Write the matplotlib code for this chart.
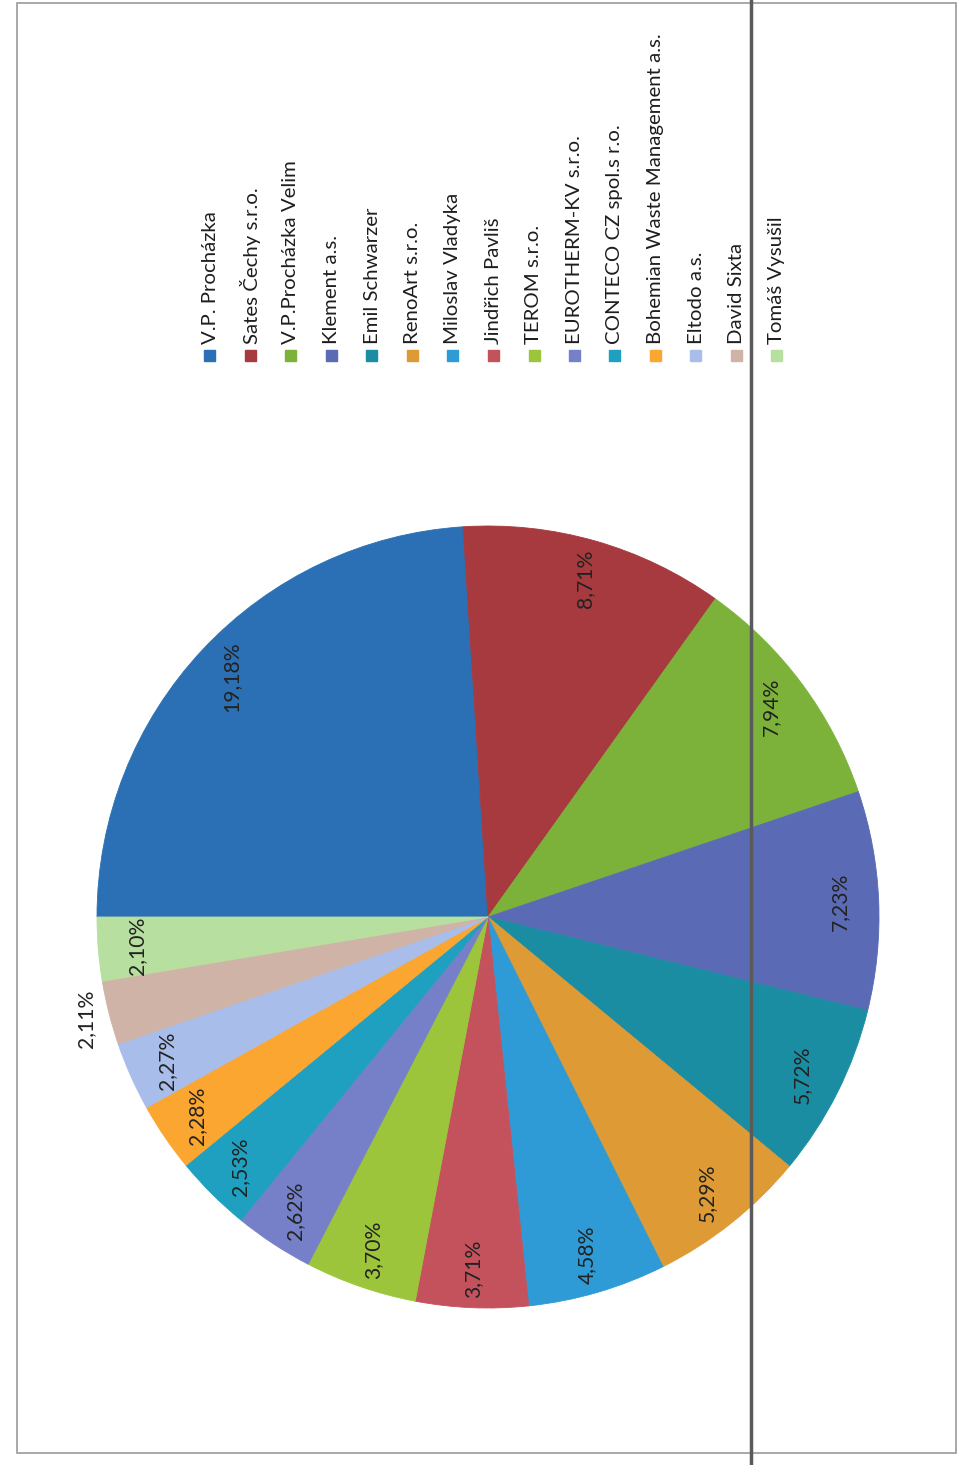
import matplotlib
matplotlib.use('Agg')
import matplotlib.pyplot as plt
import numpy as np

plt.rcParams['font.family'] = ['Lato', 'DejaVu Sans']

names = ['V.P. Procházka', 'Sates Čechy s.r.o.', 'V.P.Procházka Velim', 'Klement a.s.',
         'Emil Schwarzer', 'RenoArt s.r.o.', 'Miloslav Vladyka', 'Jindřich Pavliš',
         'TEROM s.r.o.', 'EUROTHERM-KV s.r.o.', 'CONTECO CZ spol.s r.o.',
         'Bohemian Waste Management a.s.', 'Eltodo a.s.', 'David Sixta', 'Tomáš Vysušil']
shares = [19.18, 8.71, 7.94, 7.23, 5.72, 5.29, 4.58, 3.71, 3.70, 2.62, 2.53, 2.28, 2.27, 2.11, 2.10]
colors = ['#2B70B4', '#A63A3E', '#7DB23A', '#5A6AB5', '#1B8DA3', '#DE9A35', '#2E9AD6',
          '#C4525D', '#9CC53B', '#7580C8', '#1FA0C0', '#FBA630', '#A8BDEA', '#CFB3A7', '#B7DF9F']

W, H = 962, 1465
fig = plt.figure(figsize=(W / 100, H / 100), dpi=100)

# pie (page is scanned rotated 90 deg, so everything is drawn rotated)
cx, cy, r = 488, 917, 391
ax = fig.add_axes([(cx - r) / W, 1 - (cy + r) / H, 2 * r / W, 2 * r / H])
wedges, _ = ax.pie(shares, colors=colors, startangle=180, counterclock=False,
                   wedgeprops=dict(linewidth=0.6))
for w in wedges:
    w.set_edgecolor(w.get_facecolor())
ax.set_xlim(-1, 1)
ax.set_ylim(-1, 1)
ax.set_aspect('equal')
ax.axis('off')

for w, name, v in zip(wedges, names, shares):
    mid = np.deg2rad((w.theta1 + w.theta2) / 2)
    rr = 1.06 if name == 'David Sixta' else 0.9
    lab = ('%.2f%%' % v).replace('.', ',')
    ax.text(rr * np.cos(mid), rr * np.sin(mid), lab, rotation=90,
            ha='center', va='center', fontsize=15.2, color='#222222')

# legend, drawn by hand because of the rotation
lx0, dx, ly = 210, 40.5, 355
for i, (name, c) in enumerate(zip(names, colors)):
    x = lx0 + i * dx
    fig.patches.append(plt.Rectangle(((x - 5.5) / W, 1 - (ly + 5.5) / H), 11 / W, 11 / H,
                                     transform=fig.transFigure, color=c))
    fig.text(x / W, 1 - 344 / H, name, rotation=90, ha='center', va='bottom',
             fontsize=14.7, color='#1e1e1e')

# frame of the chart area and the scanner line
frame = plt.Rectangle((17 / W, 1 - 1453 / H), (956 - 17) / W, (1453 - 3) / H,
                      transform=fig.transFigure, fill=False, edgecolor='#9a9a9a', linewidth=1.2)
fig.patches.append(frame)
fig.lines.append(plt.Line2D([751 / W, 751 / W], [0, 1], transform=fig.transFigure,
                            color='#5a5a5a', linewidth=2.5))

fig.savefig('out.png', dpi=100)
